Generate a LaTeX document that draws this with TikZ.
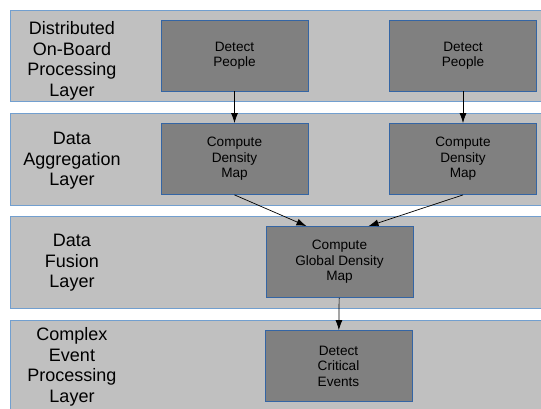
\documentclass[tikz,border=0pt]{standalone}
\usepackage{fontspec}
\setmainfont{Liberation Sans}
\usetikzlibrary{arrows.meta}
\definecolor{bandfill}{HTML}{C0C0C0}
\definecolor{bandline}{HTML}{729FCF}
\definecolor{boxfill}{HTML}{808080}
\definecolor{boxline}{HTML}{3465A4}
\tikzset{
  band/.style={fill=bandfill, draw=bandline, line width=0.8pt},
  layer/.style={align=center, inner sep=0pt, font=\fontsize{18}{20.5}\selectfont},
  task/.style={fill=boxfill, draw=boxline, line width=0.8pt, minimum width=147pt,
    minimum height=71pt, inner sep=0pt, align=center, font=\fontsize{13.6}{15.5}\selectfont},
  flow/.style={-{Latex[length=10pt,width=7pt]}, line width=0.7pt}
}
\begin{document}
\begin{tikzpicture}[x=1pt,y=-1pt]
    \useasboundingbox (0,0) rectangle (541,408);
    % layer bands
    \draw[band] (10,10) rectangle (546,101);
    \draw[band] (10,113) rectangle (546,205);
    \draw[band] (10,216) rectangle (546,308);
    \draw[band] (10,320) rectangle (546,420);
    \node[layer] (l1) at (72,61) {Distributed\\On-Board\\Processing\\Layer};
    \node[layer] (l2) at (72,161) {Data\\Aggregation\\Layer};
    \node[layer] (l3) at (72,263) {Data\\Fusion\\Layer};
    \node[layer] (l4) at (72,367) {Complex\\Event\\Processing\\Layer};

    % tasks
    \node[task] (dp1) at (234.5,55.5) {Detect\\People};
    \node[task] (dp2) at (463,55.5) {Detect\\People};
    \node[task] (cd1) at (234.5,159) {Compute\\Density\\Map};
    \node[task] (cd2) at (463,159) {Compute\\Density\\Map};
    \node[task] (cg) at (339.5,262) {Compute\\Global Density\\Map};
    \node[task] (ce) at (338.5,366) {Detect\\Critical\\Events};

    % flows
    \draw[flow] (dp1) -- (cd1);
    \draw[flow] (dp2) -- (cd2);
    \draw[flow] (cd1.south) -- ([xshift=-33pt]cg.north);
    \draw[flow] (cd2.south) -- ([xshift=29pt]cg.north);
    \draw[flow] (cg) -- (ce);
\end{tikzpicture}
\end{document}
